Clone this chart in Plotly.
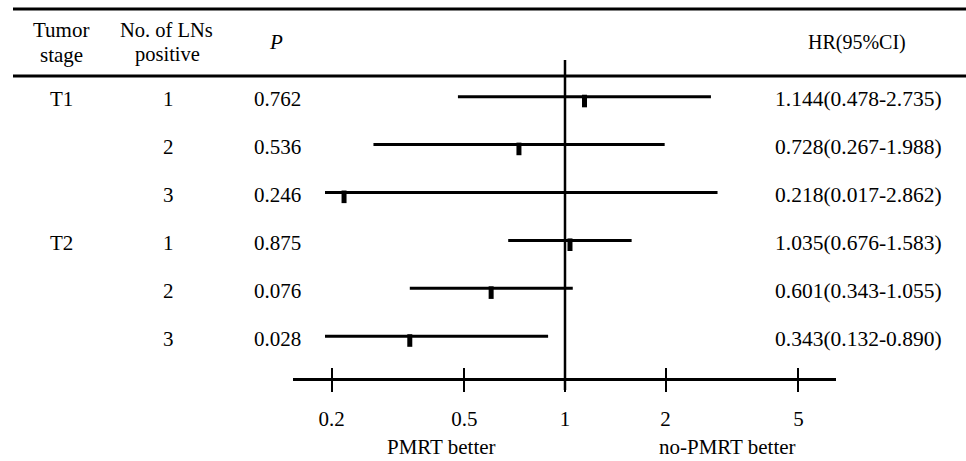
import plotly.graph_objects as go

# ---- data ----
tumor_stage = ["T1", "", "", "T2", "", ""]
lns_positive = ["1", "2", "3", "1", "2", "3"]
p_values = ["0.762", "0.536", "0.246", "0.875", "0.076", "0.028"]
hr = [1.144, 0.728, 0.218, 1.035, 0.601, 0.343]
ci_low = [0.478, 0.267, 0.017, 0.676, 0.343, 0.132]
ci_high = [2.735, 1.988, 2.862, 1.583, 1.055, 0.890]
hr_text = ["1.144(0.478-2.735)", "0.728(0.267-1.988)", "0.218(0.017-2.862)",
           "1.035(0.676-1.583)", "0.601(0.343-1.055)", "0.343(0.132-0.890)"]
tick_vals = [0.2, 0.5, 1, 2, 5]
tick_text = ["0.2", "0.5", "1", "2", "5"]

W, H = 966, 461
FONT = "Liberation Serif"
rows = list(range(len(hr)))

def px(x):
    return x / W

def py(y):
    return 1 - y / H

PXDEC = 334.0   # pixels per decade
X1PX = 565.0    # pixel position of HR = 1

def lg(p):
    return (p - X1PX) / PXDEC

fig = go.Figure()

# invisible trace on the drawn axis (x)
fig.add_trace(go.Scatter(x=[tick_vals[0], tick_vals[-1]], y=[0, 0], mode="markers",
                         marker=dict(opacity=0), xaxis="x", yaxis="y",
                         showlegend=False, hoverinfo="skip"))

# CI lines (on x2, whose plot area starts a bit right of the axis line start)
xs, ys = [], []
for i in rows:
    xs += [ci_low[i], ci_high[i], None]
    ys += [i, i, None]
fig.add_trace(go.Scatter(x=xs, y=ys, mode="lines", xaxis="x2", yaxis="y",
                         line=dict(color="black", width=3),
                         hoverinfo="skip", showlegend=False))

# point estimates (small vertical bars hanging just below the CI line)
fig.add_trace(go.Scatter(x=hr, y=[i + 0.09 for i in rows], mode="markers",
                         xaxis="x2", yaxis="y",
                         marker=dict(symbol="line-ns", size=9,
                                     line=dict(color="black", width=5)),
                         showlegend=False))

axis_pos = py(379)

fig.update_layout(
    width=W, height=H,
    margin=dict(l=0, r=0, t=0, b=0),
    paper_bgcolor="white", plot_bgcolor="rgba(0,0,0,0)",
    font=dict(family=FONT, size=21, color="black"),
    xaxis=dict(type="log", domain=[px(293), px(836)], range=[lg(293), lg(836)],
               anchor="free", position=axis_pos,
               showline=True, linecolor="black", linewidth=3,
               ticks="outside", ticklen=11, tickwidth=2, tickcolor="black",
               tickvals=tick_vals, ticktext=tick_text, ticklabelstandoff=9,
               tickfont=dict(family=FONT, size=21, color="black"),
               showgrid=False, zeroline=False, fixedrange=True),
    xaxis2=dict(type="log", domain=[px(325), px(836)], range=[lg(325), lg(836)],
                anchor="free", position=axis_pos,
                showline=False, ticks="inside", ticklen=11, tickwidth=2,
                tickcolor="black", tickvals=tick_vals, showticklabels=False,
                showgrid=False, zeroline=False, fixedrange=True),
    yaxis=dict(domain=[py(400), py(40)], range=[6.332, -1.184],
               visible=False, showgrid=False, zeroline=False, fixedrange=True),
)

shapes = []
for yy in (9, 76):
    shapes.append(dict(type="line", xref="paper", yref="paper",
                       x0=px(13), x1=1, y0=py(yy), y1=py(yy),
                       line=dict(color="black", width=3)))
shapes.append(dict(type="line", xref="x", yref="paper",
                   x0=1, x1=1, y0=py(60), y1=py(390),
                   line=dict(color="black", width=2.5)))
fig.update_layout(shapes=shapes)

ann = []
def txt(x, y, t, yref="paper", size=21):
    ann.append(dict(x=x, y=y, xref="paper", yref=yref, text=t, showarrow=False,
                    xanchor="center", yanchor="middle",
                    font=dict(family=FONT, size=size, color="black")))

# headers
txt(px(61), py(30), "Tumor", size=21)
txt(px(61), py(55), "stage", size=21)
txt(px(166), py(30), "No. of LNs", size=20.5)
txt(px(167), py(55), "positive", size=20.5)
txt(px(276), py(42), "<i>P</i>", size=21)
txt(px(857), py(42), "HR(95%CI)", size=20)

# rows
for i in rows:
    yv = i + 0.05
    if tumor_stage[i]:
        txt(px(61), yv, tumor_stage[i], yref="y", size=21)
    txt(px(168), yv, lns_positive[i], yref="y", size=21)
    txt(px(277), yv, p_values[i], yref="y", size=21)
    txt(px(858), yv, hr_text[i], yref="y", size=21.5)

# bottom labels
txt(px(441), py(447), "PMRT better", size=21)
txt(px(727), py(447), "no-PMRT better", size=21)

fig.update_layout(annotations=ann)

fig.write_html("out.html", config={"displayModeBar": False},
               post_script="document.body.style.margin='0px';document.body.style.overflow='hidden';")
